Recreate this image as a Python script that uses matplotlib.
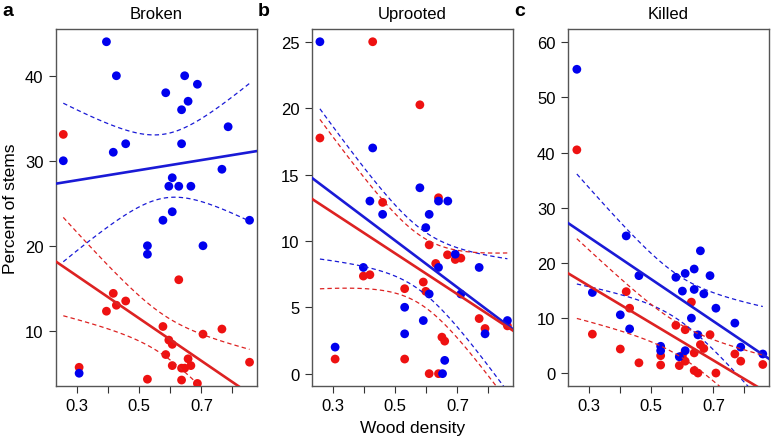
import numpy as np
import matplotlib
matplotlib.use("Agg")
import matplotlib.pyplot as plt

plt.rcParams['font.family'] = ['Liberation Sans', 'DejaVu Sans']

# --- data (wood density vs percent of stems) ---
broken_blue_x = [0.255, 0.306, 0.394, 0.416, 0.426, 0.456, 0.526, 0.526, 0.576, 0.585,
                 0.595, 0.606, 0.606, 0.627, 0.636, 0.636, 0.646, 0.657, 0.666, 0.687,
                 0.705, 0.766, 0.786, 0.855]
broken_blue_y = [30, 5, 44, 31, 40, 32, 20, 19, 23, 38,
                 27, 28, 24, 27, 36, 32, 40, 37, 27, 39,
                 20, 29, 34, 23]
broken_red_x = [0.255, 0.306, 0.394, 0.416, 0.426, 0.456, 0.526, 0.576, 0.585, 0.595,
                0.606, 0.606, 0.627, 0.636, 0.636, 0.646, 0.657, 0.666, 0.687, 0.705,
                0.766, 0.855]
broken_red_y = [33.1, 5.7, 12.3, 14.4, 13.0, 13.5, 4.3, 10.5, 7.2, 8.9,
                8.4, 5.9, 16.0, 5.6, 4.2, 5.6, 6.7, 5.9, 3.8, 9.6,
                10.2, 6.3]

uproot_blue_x = [0.257, 0.306, 0.397, 0.418, 0.427, 0.459, 0.530, 0.530, 0.579, 0.590,
                 0.598, 0.609, 0.609, 0.639, 0.639, 0.652, 0.659, 0.669, 0.693, 0.711,
                 0.770, 0.789, 0.861]
uproot_blue_y = [25, 2, 8, 13, 17, 12, 5, 3, 14, 4,
                 11, 12, 6, 8, 13, 0, 1, 13, 9, 6,
                 8, 3, 4]
uproot_red_x = [0.257, 0.306, 0.397, 0.418, 0.427, 0.459, 0.530, 0.530, 0.579, 0.590,
                0.598, 0.609, 0.609, 0.630, 0.639, 0.639, 0.650, 0.659, 0.668, 0.693,
                0.711, 0.770, 0.789, 0.861]
uproot_red_y = [17.75, 1.1, 7.35, 7.45, 25, 12.9, 6.4, 1.1, 20.25, 6.9,
                6.2, 9.7, 0, 8.3, 13.25, 0, 2.75, 2.45, 8.95, 8.6,
                8.7, 4.15, 3.4, 3.6]

killed_blue_x = [0.260, 0.310, 0.400, 0.419, 0.430, 0.460, 0.530, 0.530, 0.579, 0.590,
                 0.600, 0.609, 0.609, 0.629, 0.638, 0.638, 0.650, 0.658, 0.669, 0.689,
                 0.708, 0.769, 0.788, 0.859]
killed_blue_y = [55.1, 14.65, 10.6, 24.9, 8.05, 17.7, 4.9, 4.1, 17.4, 3.0,
                 14.9, 18.1, 4.1, 10.0, 18.9, 15.2, 6.97, 22.2, 14.4, 17.7,
                 11.8, 9.1, 4.75, 3.5]
killed_red_x = [0.260, 0.310, 0.400, 0.419, 0.430, 0.460, 0.530, 0.530, 0.579, 0.590,
                0.600, 0.609, 0.609, 0.629, 0.638, 0.638, 0.650, 0.658, 0.669, 0.689,
                0.708, 0.769, 0.788, 0.859]
killed_red_y = [40.5, 7.1, 4.4, 14.8, 11.8, 1.9, 3.2, 1.5, 8.7, 1.4,
                3.2, 7.9, 2.2, 12.9, 3.7, 0.5, 0.05, 5.2, 4.5, 7.0,
                0.05, 3.5, 2.2, 1.6]

panels = [
    ("a", "Broken", broken_blue_x, broken_blue_y, broken_red_x, broken_red_y,
     (3.5, 45.5), [10, 20, 30, 40]),
    ("b", "Uprooted", uproot_blue_x, uproot_blue_y, uproot_red_x, uproot_red_y,
     (-0.93, 25.96), [0, 5, 10, 15, 20, 25]),
    ("c", "Killed", killed_blue_x, killed_blue_y, killed_red_x, killed_red_y,
     (-2.3, 62.4), [0, 10, 20, 30, 40, 50, 60]),
]

BLUE = "#0000ee"
RED = "#ee1111"
LINE_BLUE = "#1a1ad6"
LINE_RED = "#dd2222"
XLIM = (0.2315, 0.879)


def t975(df):
    z = 1.959964
    return (z + (z ** 3 + z) / (4 * df)
            + (5 * z ** 5 + 16 * z ** 3 + 3 * z) / (96 * df ** 2))


def fit_with_ci(ax, x, y, color):
    x = np.asarray(x, float)
    y = np.asarray(y, float)
    n = len(x)
    slope, intercept = np.polyfit(x, y, 1)
    resid = y - (intercept + slope * x)
    s = np.sqrt(np.sum(resid ** 2) / (n - 2))
    sxx = np.sum((x - x.mean()) ** 2)
    xl = np.array(XLIM)
    ax.plot(xl, intercept + slope * xl, color=color, lw=1.9, zorder=4)
    xs = np.linspace(x.min(), x.max(), 100)
    fit = intercept + slope * xs
    half = t975(n - 2) * s * np.sqrt(1 / n + (xs - x.mean()) ** 2 / sxx)
    for band in (fit + half, fit - half):
        ax.plot(xs, band, color=color, lw=0.9, ls=(0, (3.5, 2.5)), zorder=4)


fig = plt.figure(figsize=(7.71, 4.39), dpi=100)
W, H = 771.0, 439.0
lefts = [56, 312, 568]
width = 201
top, bottom = 30, 387

for i, (letter, title, bx, by, rx, ry, ylim, yticks) in enumerate(panels):
    ax = fig.add_axes([lefts[i] / W, 1 - bottom / H, width / W, (bottom - top) / H])
    ax.scatter(rx, ry, s=40, color=RED, edgecolors='none', zorder=3)
    ax.scatter(bx, by, s=40, color=BLUE, edgecolors='none', zorder=3)
    fit_with_ci(ax, bx, by, LINE_BLUE)
    fit_with_ci(ax, rx, ry, LINE_RED)
    ax.set_xlim(XLIM)
    ax.set_ylim(ylim)
    ax.set_xticks([0.3, 0.4, 0.5, 0.6, 0.7, 0.8])
    ax.set_xticklabels(["0.3", "", "0.5", "", "0.7", ""])
    ax.set_yticks(yticks)
    ax.tick_params(labelsize=12, length=5, width=0.8, color="#333333", pad=4)
    for sp in ax.spines.values():
        sp.set_color("#555555")
        sp.set_linewidth(1.0)
    ax.set_title(title, fontsize=12, pad=8)
    fig.text((lefts[i] - 54) / W, 1 - 12 / H, letter, fontsize=14, fontweight='bold',
             va='center', ha='left')
    if i == 0:
        ax.set_ylabel("Percent of stems", fontsize=12.5, labelpad=5)
    if i == 1:
        ax.set_xlabel("Wood density", fontsize=12.5, labelpad=5)

fig.savefig("out.png", dpi=100)
